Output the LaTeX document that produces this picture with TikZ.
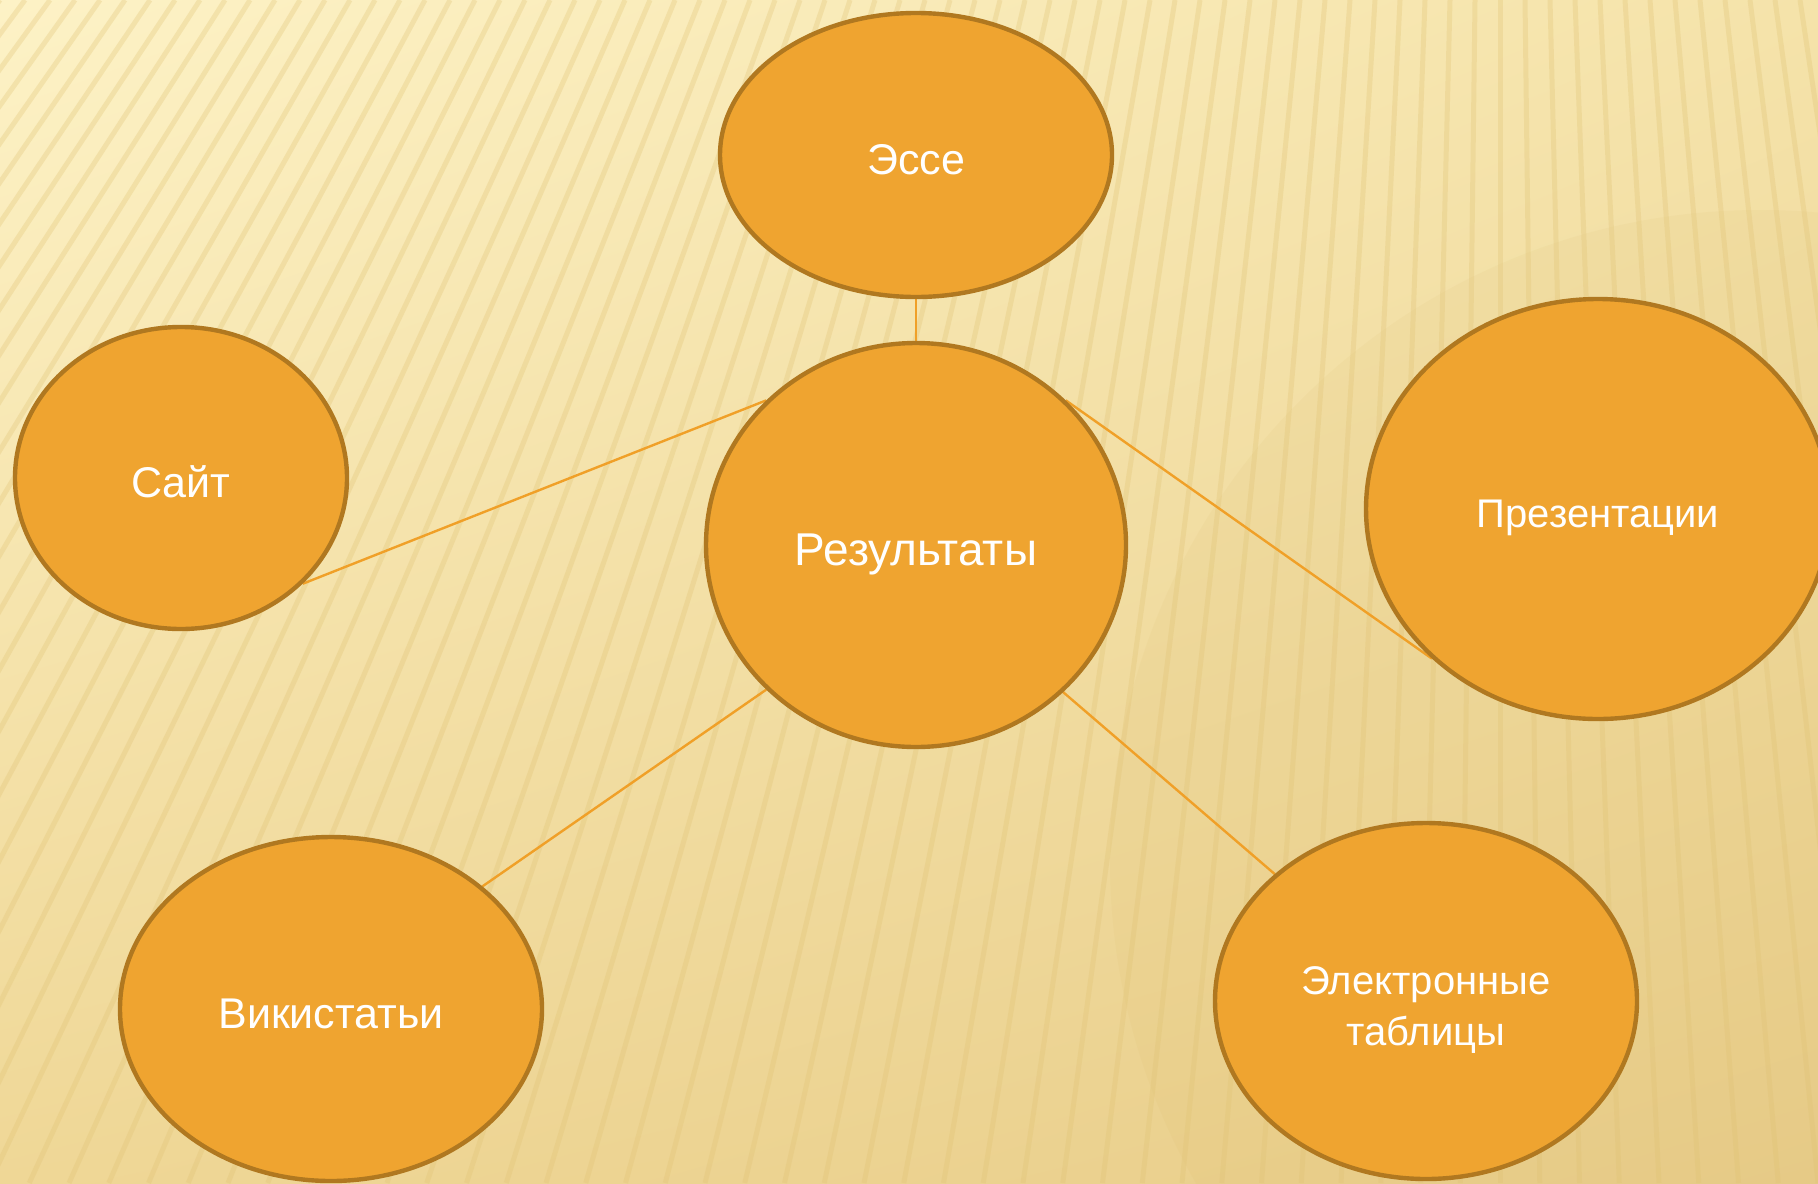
\documentclass[tikz,border=0pt]{standalone}
\usepackage{fontspec}
\setmainfont{Liberation Sans}
\usetikzlibrary{shapes.geometric}
\usetikzlibrary{shadings}
\pgfdeclarelayer{bglayer}
\pgfdeclarelayer{edgelayer}
\pgfdeclarelayer{nodelayer}
\pgfsetlayers{bglayer,edgelayer,nodelayer,main}
\definecolor{bubblefill}{HTML}{EFA430}
\definecolor{bubbleline}{HTML}{B07820}
\definecolor{linkline}{HTML}{F0A028}
\definecolor{stripecol}{HTML}{E0C273}
\definecolor{bgul}{HTML}{FDF2C6}
\definecolor{bgur}{HTML}{F5E3AA}
\definecolor{bgll}{HTML}{EFD796}
\definecolor{bglr}{HTML}{E8CD8A}
\definecolor{glare}{HTML}{D2AE55}
\tikzstyle{bubble}=[ellipse,draw=bubbleline,fill=bubblefill,line width=2.2pt,inner sep=0pt,text=white,align=center,font=\fontsize{21.5}{25.5}\selectfont,text height=23.5pt,text depth=4.5pt]
\tikzstyle{bigtext}=[font=\fontsize{23}{27}\selectfont,text height=25pt,text depth=5pt]
\tikzstyle{smalltext}=[font=\fontsize{20}{25.5}\selectfont,text height=22pt,text depth=4pt]
\tikzstyle{link}=[draw=linkline,line width=1.2pt]
\tikzstyle{stripe}=[draw=stripecol,line width=2.5pt,opacity=0.3]

\begin{document}
\begin{tikzpicture}[x=0.5pt,y=-0.5pt]
	\useasboundingbox (0,0) rectangle (1818,1183);
	\begin{pgfonlayer}{bglayer}
		\clip (0,0) rectangle (1818,1183);
		\shade [upper left=bgul,upper right=bgur,lower left=bgll,lower right=bglr] (0,0) rectangle (1818,1183);
		% big soft disc on the right
		\fill [glare,opacity=0.07] (1760,860) circle [radius=650];
		\foreach \t in {-900,-875,...,1850}{
			\pgfmathsetmacro{\b}{1500+(\t-1500)*1.59}
			\draw [style=stripe] (\t,0) -- (\b,1183);
		}
	\end{pgfonlayer}
	\begin{pgfonlayer}{nodelayer}
		\node [style=bubble,style=bigtext,minimum width=210pt,minimum height=202pt] (0) at (916,545) {Результаты};
		\node [style=bubble,minimum width=196pt,minimum height=142pt] (1) at (916,155) {Эссе};
		\node [style=bubble,minimum width=166pt,minimum height=151pt] (2) at (181,478) {Сайт};
		\node [style=bubble,style=smalltext,minimum width=232pt,minimum height=210pt] (3) at (1598,509) {Презентации};
		\node [style=bubble,minimum width=211pt,minimum height=172pt] (4) at (331,1009) {Викистатьи};
		\node [style=bubble,font=\fontsize{20}{25.5}\selectfont,text height=,text depth=,minimum width=211pt,minimum height=178pt] (5) at (1426,1001) {\rule{0pt}{23pt}Электронные\\таблицы};
	\end{pgfonlayer}
	\begin{pgfonlayer}{edgelayer}
		\draw [style=link] (1.south) to (0.north);
		\draw [style=link] (0.136) to (2.319);
		\draw [style=link] (0.44) to (3.222);
		\draw [style=link] (0.224) to (4.39);
		\draw [style=link] (0.315) to (5.140);
	\end{pgfonlayer}
\end{tikzpicture}
\end{document}
